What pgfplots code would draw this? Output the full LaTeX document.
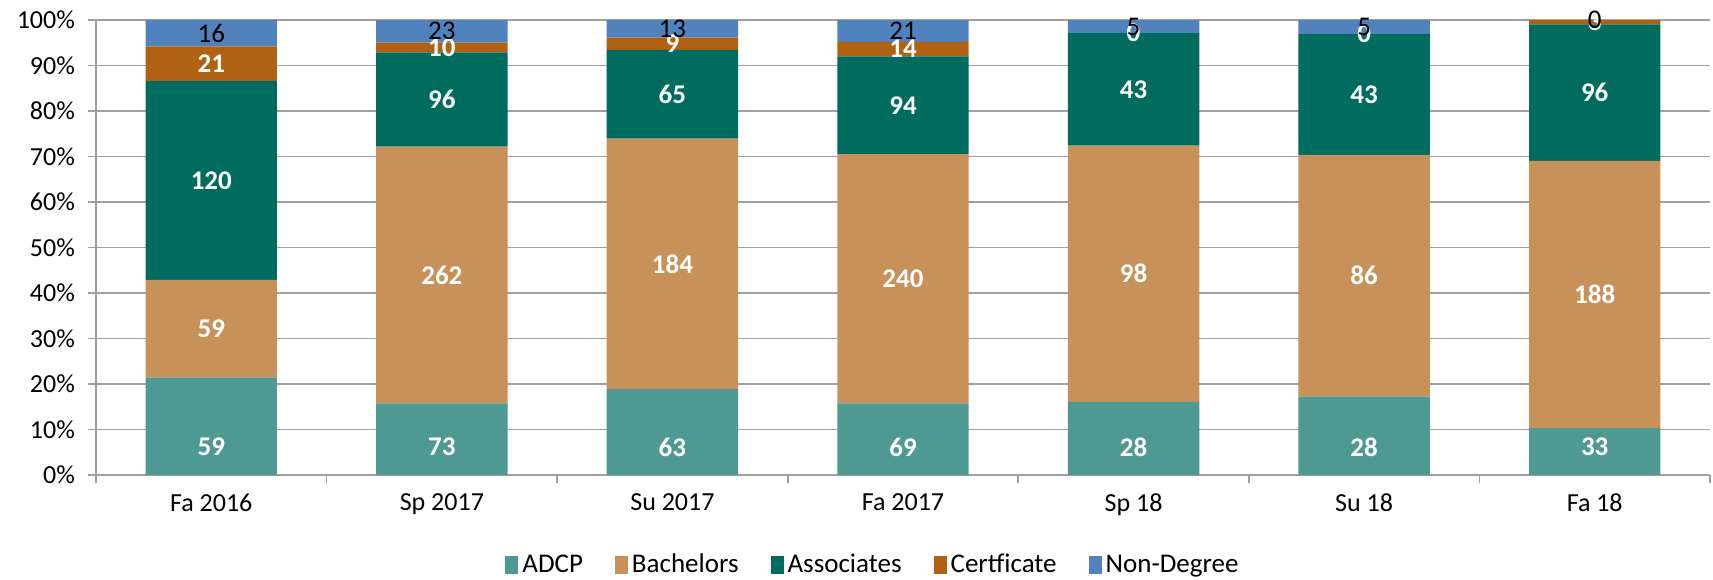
\documentclass[border=0pt]{standalone}
\usepackage{fontspec}
\setmainfont{Carlito}
\usepackage{pgfplots}
\usepackage{pgfplotstable}
\pgfplotsset{compat=1.18}
\definecolor{cADCP}{HTML}{4E9A93}
\definecolor{cBach}{HTML}{C8915A}
\definecolor{cAssoc}{HTML}{006C5F}
\definecolor{cCert}{HTML}{B06112}
\definecolor{cND}{HTML}{5082BE}
\definecolor{gridgray}{HTML}{A0A0A0}

\pgfplotstableread{
x A B C D E T
0 59 59 120 21 16 275
1 73 262 96 10 23 464
2 63 184 65 9 13 334
3 69 240 94 14 21 438
4 28 98 43 0 5 174
5 28 86 43 0 5 162
6 33 188 96 3 0 320
}\datatable

\pgfplotsset{common/.style={scale only axis, width=807pt, height=227.5pt,
  xmin=-0.5, xmax=6.5, ymin=0, ymax=100, at={(0pt,0pt)}, anchor=south west}}

\begin{document}
\begin{tikzpicture}[font=\fontsize{13}{15}\selectfont]
\path[use as bounding box] (-48pt,-52pt) rectangle (808.5pt,237.5pt);
\begin{axis}[common, ybar stacked, bar width=0.57,
  axis lines*=left, axis line style={gridgray, line width=0.8pt},
  ymajorgrids, grid style={gridgray, line width=0.8pt},
  ytick={0,10,...,100},
  yticklabel={\pgfmathprintnumber[assume math mode=true]{\tick}\%},
  tick align=outside, major tick length=4pt,
  tick style={gridgray, line width=0.8pt},
  xtick={-0.5,0.5,...,6.5}, xticklabels={},
  extra x ticks={0,1,2,3,4,5,6},
  extra x tick labels={Fa 2016,Sp 2017,Su 2017,Fa 2017,Sp 18,Su 18,Fa 18},
  extra x tick style={major tick length=0pt, grid=none, tick label style={yshift=-6pt}},
  yticklabel style={xshift=-3pt},
  legend style={at={(0.482,-0.198)}, anchor=center, draw=none, legend columns=-1,
    font=\fontsize{13.5}{15}\selectfont,
    /tikz/every even column/.append style={column sep=14pt}},
  legend image code/.code={\fill[#1] (0pt,-4.5pt) rectangle (6.5pt,4.5pt);},
]
\addplot[fill=cADCP, draw=none] table[x=x, y expr=\thisrow{A}/\thisrow{T}*100]{\datatable};
\addplot[fill=cBach, draw=none] table[x=x, y expr=\thisrow{B}/\thisrow{T}*100]{\datatable};
\addplot[fill=cAssoc, draw=none] table[x=x, y expr=\thisrow{C}/\thisrow{T}*100]{\datatable};
\addplot[fill=cCert, draw=none] table[x=x, y expr=\thisrow{D}/\thisrow{T}*100]{\datatable};
\addplot[fill=cND, draw=none] table[x=x, y expr=\thisrow{E}/\thisrow{T}*100]{\datatable};
\legend{ADCP,Bachelors,Associates,Certficate,Non-Degree}
\end{axis}
\begin{axis}[common, hide axis, clip=false, point meta=explicit,
  nodes near coords={\pgfmathprintnumber[assume math mode=true]{\pgfplotspointmeta}},
  nodes near coords style={anchor=center, font=\fontsize{13.5}{15}\selectfont\bfseries, text=white},
]
\addplot[only marks, mark=*, mark size=0pt, mark options={draw=none,fill=none},
  nodes near coords style={yshift=14pt}]
  table[x=x, y expr=0, meta=A]{\datatable};
\addplot[only marks, mark=*, mark size=0pt, mark options={draw=none,fill=none}]
  table[x=x, y expr=(\thisrow{A}+\thisrow{B}/2)/\thisrow{T}*100, meta=B]{\datatable};
\addplot[only marks, mark=*, mark size=0pt, mark options={draw=none,fill=none}]
  table[x=x, y expr=(\thisrow{A}+\thisrow{B}+\thisrow{C}/2)/\thisrow{T}*100, meta=C]{\datatable};
\addplot[only marks, mark=*, mark size=0pt, mark options={draw=none,fill=none}]
  table[x=x, y expr=(\thisrow{A}+\thisrow{B}+\thisrow{C}+\thisrow{D}/2)/\thisrow{T}*100, meta=D]{\datatable};
\addplot[only marks, mark=*, mark size=0pt, mark options={draw=none,fill=none},
  nodes near coords style={font=\fontsize{13.5}{15}\selectfont, text=black}]
  table[x=x, y expr=(\thisrow{A}+\thisrow{B}+\thisrow{C}+\thisrow{D}+\thisrow{E}/2)/\thisrow{T}*100, meta=E]{\datatable};
\end{axis}
\end{tikzpicture}
\end{document}
